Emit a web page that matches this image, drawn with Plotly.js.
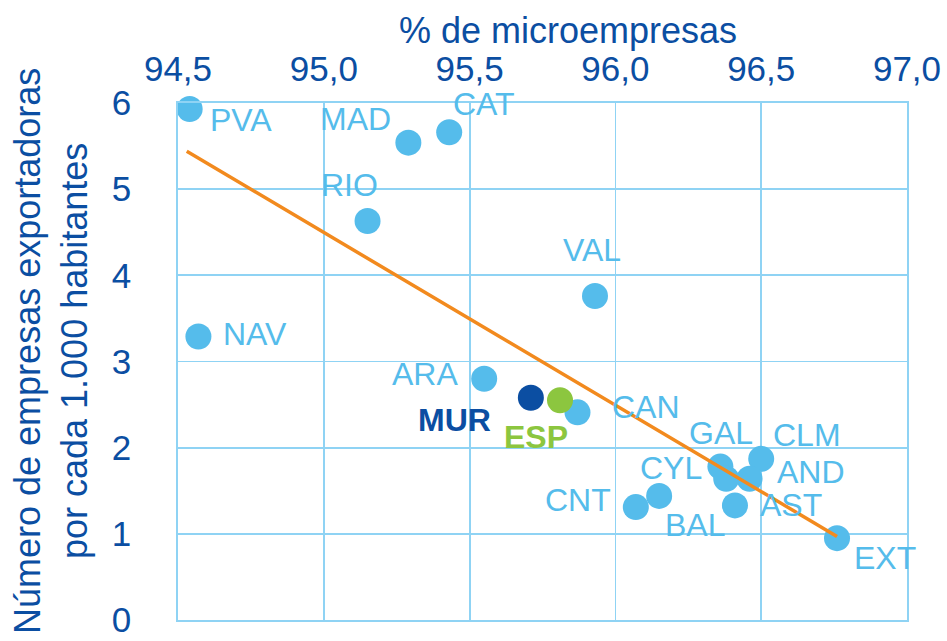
<!DOCTYPE html>
<html>
<head>
<meta charset="utf-8">
<script src="https://cdn.plot.ly/plotly-3.0.1.min.js"></script>
<style>html,body{margin:0;padding:0;background:#fff;}#chart{width:947px;height:641px;}</style>
</head>
<body>
<div id="chart"></div>
<script>
// Regions (light blue points)
const regions = ["PVA","MAD","CAT","RIO","NAV","VAL","ARA","CAN","GAL","CLM","AND","CYL","AST","BAL","CNT","EXT"];
const microPct = [94.54,95.29,95.43,95.15,94.57,95.93,95.55,95.87,96.36,96.50,96.46,96.38,96.41,96.15,96.07,96.76];
const exportadoras = [5.93,5.54,5.66,4.63,3.29,3.76,2.80,2.41,1.78,1.87,1.64,1.64,1.33,1.44,1.31,0.95];

// Highlighted
const murX = [95.71], murY = [2.58];
const espX = [95.81], espY = [2.55];

// Trend line end points
const trendX = [94.53, 96.76];
const trendY = [5.44, 0.97];

// Tick values/labels
const xTicks = [94.5, 95.0, 95.5, 96.0, 96.5, 97.0];
const yTicks = [0, 1, 2, 3, 4, 5, 6];

// label offsets (px) - style only
const labelShift = {
  PVA:[51,-11], MAD:[-53,24], CAT:[35,28], RIO:[-18,36], NAV:[57,3], VAL:[-3,46],
  ARA:[-59,5], CAN:[69,5], GAL:[1,34], CLM:[46,24], AND:[61,7], CYL:[-55,11],
  AST:[56,0], BAL:[36,-29], CNT:[-58,7], EXT:[48,-20]
};

const LIGHT = "#55BCEB", DARK = "#0B4EA2", GREEN = "#8CC63F", ORANGE = "#F28A1E", GRID = "#8FD3F4";
const FONT = "Liberation Sans, Arial, sans-serif";

const traces = [
  {x: microPct, y: exportadoras, type: "scatter", mode: "markers",
   marker: {size: 26, color: LIGHT, line: {width: 0}}, hoverinfo: "skip", cliponaxis: false},
  {x: murX, y: murY, type: "scatter", mode: "markers",
   marker: {size: 26, color: DARK, line: {width: 0}}, cliponaxis: false},
  {x: espX, y: espY, type: "scatter", mode: "markers",
   marker: {size: 26, color: GREEN, line: {width: 0}}, cliponaxis: false},
  {x: trendX, y: trendY, type: "scatter", mode: "lines",
   line: {color: ORANGE, width: 3.5}}
];

const annotations = regions.map((r, i) => ({
  x: microPct[i], y: exportadoras[i], xref: "x", yref: "y", text: r, showarrow: false,
  xshift: labelShift[r][0], yshift: labelShift[r][1],
  font: {family: FONT, size: 32, color: LIGHT}
}));
annotations.push({x: murX[0], y: murY[0], xref: "x", yref: "y", text: "<b>MUR</b>", showarrow: false,
  xshift: -76, yshift: -22, font: {family: FONT, size: 32, color: DARK}});
annotations.push({x: espX[0], y: espY[0], xref: "x", yref: "y", text: "<b>ESP</b>", showarrow: false,
  xshift: -24, yshift: -37, font: {family: FONT, size: 32, color: GREEN}});
// axis titles
annotations.push({x: (568-178)/729, y: 1, xref: "paper", yref: "paper", yanchor: "middle", xanchor: "center",
  yshift: 73, text: "% de microempresas", showarrow: false, font: {family: FONT, size: 36, color: DARK}});
annotations.push({x: (51-178)/729, y: (620-351)/517, xref: "paper", yref: "paper", xanchor: "center", yanchor: "middle",
  textangle: -90, text: "Número de empresas exportadoras<br>por cada 1.000 habitantes", showarrow: false,
  font: {family: FONT, size: 36, color: DARK}});

const layout = {
  width: 947, height: 641,
  margin: {l: 178, r: 40, t: 103, b: 21, pad: 0},
  paper_bgcolor: "#fff", plot_bgcolor: "#fff",
  separators: ",.",
  showlegend: false,
  font: {family: FONT, color: DARK},
  xaxis: {side: "top", range: [94.5, 97.0], tickvals: xTicks, tickformat: ".1f",
    showgrid: true, gridcolor: GRID, gridwidth: 1.8, zeroline: false,
    showline: true, linecolor: GRID, linewidth: 1.8, mirror: true,
    ticks: "", ticklabelstandoff: 6,
    tickfont: {family: FONT, size: 35, color: DARK}, fixedrange: true},
  yaxis: {range: [0, 6], tickvals: yTicks,
    showgrid: true, gridcolor: GRID, gridwidth: 1.8, zeroline: false,
    showline: true, linecolor: GRID, linewidth: 1.8, mirror: true,
    ticks: "", ticklabelstandoff: 38,
    tickfont: {family: FONT, size: 35, color: DARK}, fixedrange: true},
  annotations: annotations
};

Plotly.newPlot("chart", traces, layout, {displayModeBar: false, staticPlot: true});
</script>
</body>
</html>
